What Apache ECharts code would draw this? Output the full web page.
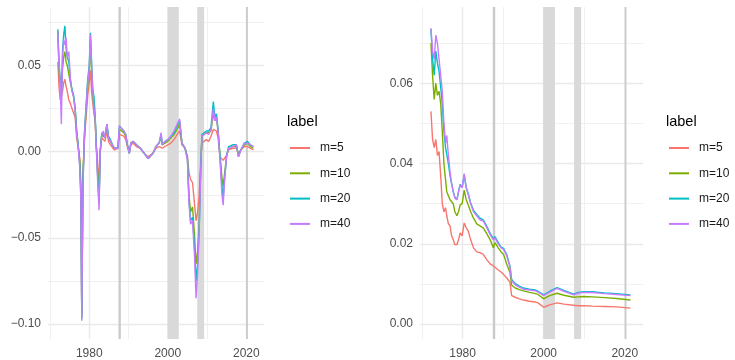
<!DOCTYPE html>
<html>
<head>
<meta charset="utf-8">
<script src="https://cdn.jsdelivr.net/npm/echarts@6/dist/echarts.min.js"></script>
<style>html,body{margin:0;padding:0;background:#fff}#main{width:735px;height:360px}</style>
</head>
<body>
<div id="main"></div>
<script>
var myChart = echarts.init(document.getElementById('main'));
var FONT = '"Liberation Sans", Arial, sans-serif';

// series names and colours (ggplot hue palette)
var names = ['m=5', 'm=10', 'm=20', 'm=40'];
var colors = ['#F8766D', '#7CAE00', '#00BFC4', '#C77CFF'];

// shaded periods
var bands = [[1987.45, 1988.05], [1999.9, 2002.8], [2007.5, 2009.25], [2019.95, 2020.4]];

// left panel
var leftYears = [
  1972.0,1972.3,1972.6,1972.9,1973.2,1973.5,1973.8,1974.1,1974.4,1974.8,
  1975.2,1975.6,1976.0,1976.4,1976.8,1977.2,1977.6,1977.9,1978.1,1978.4,
  1978.8,1979.2,1979.6,1980.0,1980.3,1980.6,1980.9,1981.2,1981.5,1981.8,
  1982.1,1982.5,1982.8,1983.2,1983.6,1984.0,1984.5,1984.9,1985.4,1985.9,
  1986.4,1986.9,1987.3,1987.7,1988.2,1988.8,1989.3,1989.8,1990.2,1990.6,
  1991.2,1992.0,1993.0,1994.0,1995.0,1995.5,1996.2,1997.0,1997.8,1998.3,
  1998.6,1999.3,2000.0,2000.8,2001.6,2002.4,2003.0,2003.3,2003.6,2004.4,
  2005.0,2005.4,2005.8,2006.3,2006.8,2007.2,2007.6,2008.0,2008.4,2008.7,
  2009.2,2009.8,2010.4,2011.0,2011.6,2012.0,2012.4,2012.8,2013.3,2013.8,
  2014.1,2014.5,2015.0,2015.5,2016.5,2017.5,2018.0,2018.6,2019.5,2020.3,
  2021.0,2021.8
];
var leftM5 = [
  0.052,0.038,0.030,0.032,0.035,0.040,0.042,0.038,0.035,0.030,
  0.028,0.025,0.024,0.020,0.008,0.002,-0.004,-0.020,-0.095,-0.012,
  0.008,0.020,0.032,0.040,0.047,0.035,0.028,0.022,0.018,0.003,
  -0.005,-0.018,0.000,0.008,0.009,0.006,0.012,0.006,0.004,0.003,
  0.001,0.001,0.002,0.010,0.010,0.009,0.007,0.002,0.000,0.004,
  0.005,0.003,0.002,-0.001,-0.003,-0.004,-0.001,0.002,0.003,0.004,
  0.002,0.003,0.004,0.005,0.007,0.010,0.012,0.008,0.004,0.002,
  -0.003,-0.012,-0.016,-0.018,-0.030,-0.040,-0.035,-0.025,-0.005,0.005,
  0.006,0.007,0.006,0.009,0.013,0.012,0.012,0.008,-0.003,-0.004,
  -0.005,-0.004,-0.002,0.001,0.002,0.002,-0.001,0.001,0.003,0.003,
  0.002,0.001
];
var leftM10 = [
  0.070,0.048,0.040,0.035,0.048,0.055,0.058,0.052,0.050,0.045,
  0.040,0.036,0.032,0.025,0.012,0.003,-0.006,-0.025,-0.096,-0.015,
  0.010,0.024,0.038,0.046,0.065,0.045,0.033,0.025,0.019,0.003,
  -0.010,-0.027,0.000,0.010,0.011,0.008,0.015,0.008,0.006,0.004,
  0.002,0.002,0.002,0.013,0.012,0.011,0.009,0.003,-0.001,0.005,
  0.006,0.004,0.002,-0.001,-0.004,-0.005,-0.001,0.003,0.005,0.009,
  0.004,0.005,0.006,0.008,0.010,0.013,0.016,0.011,0.005,0.002,
  -0.003,-0.025,-0.035,-0.032,-0.048,-0.065,-0.058,-0.040,-0.008,0.009,
  0.010,0.011,0.011,0.012,0.022,0.018,0.020,0.012,-0.002,-0.015,
  -0.020,-0.012,-0.002,0.002,0.003,0.003,-0.002,0.001,0.004,0.005,
  0.003,0.002
];
var leftM20 = [
  0.071,0.052,0.042,0.030,0.058,0.068,0.073,0.060,0.055,0.052,
  0.042,0.036,0.033,0.026,0.012,0.004,-0.008,-0.028,-0.097,-0.018,
  0.012,0.027,0.042,0.050,0.069,0.052,0.036,0.032,0.022,0.004,
  -0.012,-0.030,0.001,0.011,0.012,0.009,0.016,0.009,0.007,0.004,
  0.002,0.002,0.002,0.015,0.014,0.012,0.010,0.003,-0.001,0.005,
  0.006,0.004,0.002,-0.001,-0.004,-0.005,-0.001,0.003,0.005,0.010,
  0.004,0.006,0.007,0.009,0.011,0.015,0.018,0.012,0.005,0.002,
  -0.004,-0.028,-0.040,-0.038,-0.055,-0.075,-0.065,-0.045,-0.008,0.010,
  0.011,0.012,0.012,0.014,0.029,0.020,0.022,0.013,-0.003,-0.020,
  -0.027,-0.015,-0.002,0.003,0.004,0.004,-0.003,0.001,0.005,0.006,
  0.004,0.003
];
var leftM40 = [
  0.070,0.050,0.040,0.016,0.055,0.065,0.062,0.066,0.055,0.058,
  0.042,0.035,0.032,0.024,0.010,0.003,-0.010,-0.030,-0.098,-0.020,
  0.010,0.025,0.040,0.048,0.068,0.050,0.035,0.025,0.020,0.002,
  -0.015,-0.034,0.000,0.010,0.012,0.008,0.016,0.008,0.006,0.004,
  0.002,0.001,0.002,0.015,0.014,0.012,0.010,0.003,-0.001,0.005,
  0.006,0.004,0.002,-0.001,-0.004,-0.005,-0.001,0.003,0.005,0.011,
  0.004,0.006,0.007,0.009,0.012,0.016,0.019,0.012,0.005,0.002,
  -0.005,-0.030,-0.042,-0.040,-0.060,-0.085,-0.070,-0.045,-0.010,0.009,
  0.010,0.011,0.010,0.013,0.025,0.018,0.020,0.012,-0.005,-0.025,
  -0.031,-0.015,-0.002,0.002,0.003,0.004,-0.003,0.001,0.005,0.005,
  0.004,0.003
];

// right panel
var rightYears = [
  1972.2,1972.6,1973.0,1973.4,1973.8,1974.2,1974.6,1975.0,1975.4,1975.8,
  1976.1,1976.5,1976.9,1977.3,1977.7,1978.1,1978.6,1979.0,1979.4,1979.9,
  1980.4,1980.9,1981.4,1982.0,1982.7,1983.5,1984.3,1985.1,1986.0,1986.8,
  1987.6,1988.0,1988.8,1989.5,1990.1,1990.9,1991.7,1992.1,1993.0,1994.0,
  1995.0,1996.5,1998.0,1998.3,1998.6,2000.0,2000.5,2001.5,2003.3,2005.0,
  2007.4,2008.5,2009.8,2012.0,2015.0,2018.0,2021.4
];
var rightM5 = [
  0.053,0.046,0.044,0.046,0.042,0.043,0.037,0.030,0.028,0.029,
  0.027,0.025,0.0245,0.022,0.021,0.0198,0.0198,0.021,0.0227,0.022,
  0.0252,0.024,0.0232,0.021,0.019,0.018,0.0178,0.0174,0.016,0.015,
  0.0145,0.0142,0.0135,0.013,0.0124,0.0115,0.0104,0.0071,0.0067,0.0063,
  0.0060,0.0057,0.0055,0.0055,0.0053,0.0042,0.0044,0.0048,0.0053,0.0050,
  0.0047,0.0046,0.0046,0.0045,0.0044,0.0043,0.0040
];
var rightM10 = [
  0.070,0.062,0.056,0.060,0.057,0.058,0.055,0.048,0.040,0.036,
  0.033,0.032,0.031,0.0314,0.030,0.028,0.027,0.028,0.0297,0.030,
  0.0334,0.031,0.0297,0.028,0.0264,0.025,0.0245,0.024,0.0225,0.021,
  0.019,0.0203,0.019,0.018,0.0174,0.0149,0.0128,0.0097,0.0090,0.0086,
  0.0083,0.0079,0.0076,0.0078,0.0074,0.0063,0.0066,0.0071,0.0077,0.0072,
  0.0067,0.0068,0.0069,0.0068,0.0066,0.0064,0.0060
];
var rightM20 = [
  0.0735,0.066,0.062,0.068,0.065,0.063,0.059,0.055,0.048,0.044,
  0.044,0.040,0.037,0.035,0.033,0.0316,0.031,0.033,0.0348,0.034,
  0.0372,0.034,0.0325,0.0302,0.0283,0.0273,0.0264,0.026,0.0243,0.0226,
  0.0213,0.0218,0.0203,0.0192,0.0189,0.0173,0.0144,0.0111,0.0101,0.0095,
  0.0090,0.0087,0.0085,0.0089,0.0082,0.0073,0.0076,0.0082,0.0091,0.0084,
  0.0075,0.0079,0.0081,0.0081,0.0078,0.0076,0.0073
];
var rightM40 = [
  0.0737,0.068,0.066,0.072,0.070,0.066,0.062,0.058,0.050,0.045,
  0.047,0.042,0.038,0.035,0.033,0.0314,0.031,0.033,0.0346,0.034,
  0.0375,0.034,0.0322,0.030,0.028,0.027,0.026,0.0257,0.024,0.0223,
  0.021,0.0215,0.020,0.019,0.0186,0.017,0.0141,0.0108,0.0098,0.0092,
  0.0087,0.0085,0.0083,0.0087,0.0080,0.0071,0.0074,0.0080,0.0089,0.0082,
  0.0073,0.0077,0.0079,0.0079,0.0076,0.0074,0.0071
];

// tick values
var xMajor = [1980, 2000, 2020];
var xMinor = [1970, 1990, 2010];
var leftYMajor = [-0.1, -0.05, 0, 0.05];
var leftYMinor = [-0.075, -0.025, 0.025, 0.075];
var rightYMajor = [0, 0.02, 0.04, 0.06];
var rightYMinor = [0.01, 0.03, 0.05, 0.07];

function pairs(xs, ys) {
    return xs.map(function (x, i) { return [x, ys[i]]; });
}

function fmtY(v) { return v.toFixed(2).replace('-', '\u2212'); }
function fmtX(v) { return String(v); }

// one axis; major axes carry labels, minor axes only thin grid lines
function makeAxis(gridIndex, min, max, vals, major, fmt, margin) {
    return {
        type: 'value', gridIndex: gridIndex, min: min, max: max,
        axisLine: { show: false },
        axisTick: { show: false, customValues: vals },
        axisLabel: {
            show: major, customValues: vals, formatter: fmt,
            color: '#4d4d4d', fontSize: 12, fontFamily: FONT, margin: margin
        },
        splitLine: {
            show: true, customValues: vals,
            lineStyle: { color: major ? '#e9e9e9' : '#f0f0f0', width: major ? 1.4 : 1 }
        }
    };
}

var bandData = bands.map(function (b) {
    var thin = b[1] - b[0] < 1;
    return [{ xAxis: b[0], itemStyle: { color: thin ? '#cacaca' : '#d9d9d9' } }, { xAxis: b[1] }];
});

var seriesList = [];
var panels = [
    [leftYears, [leftM5, leftM10, leftM20, leftM40]],
    [rightYears, [rightM5, rightM10, rightM20, rightM40]]
];
panels.forEach(function (p, g) {
    p[1].forEach(function (vals, i) {
        var s = {
            name: names[i], type: 'line',
            xAxisIndex: g * 2, yAxisIndex: g * 2,
            data: pairs(p[0], vals),
            showSymbol: false, symbol: 'none',
            itemStyle: { color: colors[i] },
            lineStyle: { color: colors[i], width: 1.4 },
            z: 2 + i
        };
        if (i === 0) {
            s.markArea = { silent: true, z: 1, data: bandData, itemStyle: { color: '#d9d9d9' } };
        }
        seriesList.push(s);
    });
});

function makeLegend(left) {
    return {
        data: names, orient: 'vertical', left: left, top: 142, padding: 0,
        icon: 'rect', itemWidth: 20, itemHeight: 2, itemGap: 13.3,
        selectedMode: false,
        textStyle: { fontSize: 12, color: '#1a1a1a', fontFamily: FONT, padding: [0, 0, 0, 5] }
    };
}

option = {
    animation: false,
    backgroundColor: '#fff',
    grid: [
        { left: 48, top: 7, width: 216, height: 335 },
        { left: 420, top: 7, width: 223, height: 335 }
    ],
    xAxis: [
        makeAxis(0, 1969.5, 2024.5, xMajor, true, fmtX, 9),
        makeAxis(0, 1969.5, 2024.5, xMinor, false, fmtX, 9),
        makeAxis(1, 1969.5, 2024.5, xMajor, true, fmtX, 9),
        makeAxis(1, 1969.5, 2024.5, xMinor, false, fmtX, 9)
    ],
    yAxis: [
        makeAxis(0, -0.1086, 0.0839, leftYMajor, true, fmtY, 7),
        makeAxis(0, -0.1086, 0.0839, leftYMinor, false, fmtY, 7),
        makeAxis(1, -0.0037, 0.0790, rightYMajor, true, fmtY, 7),
        makeAxis(1, -0.0037, 0.0790, rightYMinor, false, fmtY, 7)
    ],
    legend: [makeLegend(290), makeLegend(669)],
    graphic: [
        { type: 'text', left: 287, top: 114, style: { text: 'label', fontSize: 14.5, fill: '#000', fontFamily: FONT } },
        { type: 'text', left: 666, top: 114, style: { text: 'label', fontSize: 14.5, fill: '#000', fontFamily: FONT } }
    ],
    series: seriesList
};
myChart.setOption(option);
</script>
</body>
</html>
